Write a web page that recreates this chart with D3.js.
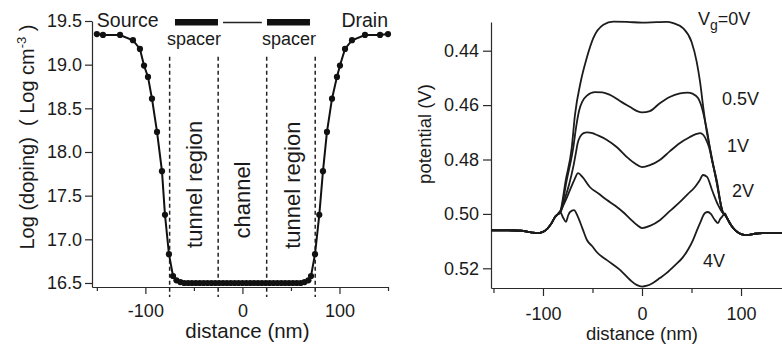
<!DOCTYPE html>
<html>
<head>
<meta charset="utf-8">
<script src="https://cdn.jsdelivr.net/npm/d3@7"></script>
<style>
  body { margin: 0; background: #fff; }
  svg { display: block; }
  text { font-family: "Liberation Sans", Arial, Helvetica, sans-serif; fill: #1a1a1a; }
  .axis path, .axis line { stroke: #2a2a2a; stroke-width: 1.2; }
  .axis text { font-size: 18px; fill: #1a1a1a; }
</style>
</head>
<body>
<svg id="chart" width="782" height="347"></svg>
<script>
// ---- Doping profile (left panel) ----
const dopingX = [-150, -143.7, -126.1, -112.8, -105.6, -101.4, -97.3, -93.2, -88.0, -82.9, -79.8, -75.7, -71.5, -68,
  -64, -60, -56, -52, -48, -44, -40, -36, -32, -28, -24, -20, -16, -12, -8, -4, 0,
  4, 8, 12, 16, 20, 24, 28, 32, 36, 40, 44, 48, 52, 56, 60, 64,
  68, 70.7, 74.8, 79.2, 83.0, 87.1, 92.3, 97.4, 100.5, 105.7, 112.9, 126.3, 141.8, 150];
const dopingY = [19.35, 19.34, 19.34, 19.28, 19.18, 18.99, 18.86, 18.61, 18.23, 17.78, 17.28, 16.83, 16.58, 16.53,
  16.51, 16.50, 16.50, 16.50, 16.50, 16.50, 16.50, 16.50, 16.50, 16.50, 16.50, 16.50, 16.50, 16.50, 16.50, 16.50, 16.50,
  16.50, 16.50, 16.50, 16.50, 16.50, 16.50, 16.50, 16.50, 16.50, 16.50, 16.50, 16.50, 16.50, 16.50, 16.50, 16.51,
  16.53, 16.58, 16.83, 17.28, 17.78, 18.23, 18.61, 18.86, 18.99, 19.18, 19.28, 19.34, 19.34, 19.35];
const dopingTicks = [16.5, 17.0, 17.5, 18.0, 18.5, 19.0, 19.5];
const distMajorTicks = [-100, 0, 100];
const distMinorTicks = [-150, -50, 50, 150];
const regionBounds = [-75, -25, 25, 75];
const regionLabels = [
  { text: "tunnel region", at: -50, level: 17.63 },
  { text: "channel", at: 0, level: 17.45 },
  { text: "tunnel region", at: 51, level: 17.62 }
];

// ---- Potential profiles (right panel), [distance nm, potential V] ----
const edgeLeft = [[-152.5, 0.5060], [-135, 0.5060], [-122, 0.5062], [-112, 0.5068], [-106, 0.5071],
  [-100, 0.5066], [-95, 0.5052], [-91, 0.5032], [-88, 0.5012]];
const edgeRight = [[86, 0.5016], [90, 0.5042], [94, 0.5060], [100, 0.5074], [106, 0.5078],
  [114, 0.5073], [122, 0.5071], [152.5, 0.5071]];

const vg0 = [[-85.5, 0.5003], [-82.8, 0.4994], [-77, 0.4876], [-71, 0.4758], [-67.7, 0.4636], [-61.9, 0.4514],
  [-55.9, 0.4428], [-49.2, 0.4354], [-39, 0.4305], [-29, 0.4293], [-15, 0.4294], [0, 0.4297], [15, 0.4295],
  [25, 0.4294], [31.6, 0.4299], [41.7, 0.4318], [50, 0.4367], [55.2, 0.4440], [58.6, 0.4514], [62, 0.4612],
  [65.4, 0.4698], [68.7, 0.4759], [75, 0.4876], [81.8, 0.4994], [84, 0.5004]];
const vg05 = [[-85.5, 0.5003], [-82.5, 0.4994], [-76, 0.4876], [-69.5, 0.4758], [-66.5, 0.4680], [-63.5, 0.4620],
  [-60, 0.4585], [-55.6, 0.4565], [-47.5, 0.4552], [-40, 0.4553], [-32, 0.4563], [-20, 0.4590], [-12, 0.4607],
  [-5, 0.4622], [0, 0.4627], [8, 0.4622], [18, 0.4593], [28, 0.4570], [38.4, 0.4557], [46, 0.4554], [51, 0.4558],
  [56.6, 0.4574], [59.5, 0.4598], [61.6, 0.4625], [63.7, 0.4660], [66, 0.4700], [68.5, 0.4758], [75, 0.4876],
  [81.6, 0.4994], [84, 0.5004]];
const vg1 = [[-85.5, 0.5003], [-82.3, 0.4994], [-78, 0.4945], [-73.5, 0.4890], [-69, 0.4820], [-66.5, 0.4770],
  [-65, 0.4740], [-62.6, 0.4717], [-59, 0.4703], [-55.6, 0.4700], [-50, 0.4703], [-45.5, 0.4710], [-35.4, 0.4728],
  [-25.3, 0.4755], [-15.2, 0.4791], [-7, 0.4815], [0, 0.4828], [8, 0.4821], [18, 0.4802], [28, 0.4770],
  [38, 0.4740], [48, 0.4718], [55, 0.4706], [58.6, 0.4703], [62, 0.4710], [65.7, 0.4735], [68.7, 0.4768],
  [70.5, 0.4800], [75.5, 0.4876], [81.4, 0.4994], [84, 0.5004]];
const vg2 = [[-85.5, 0.5003], [-81, 0.4980], [-77.8, 0.4956], [-72.7, 0.4912], [-68, 0.4872], [-64.6, 0.4850],
  [-60, 0.4865], [-52.5, 0.4902], [-44, 0.4925], [-35.4, 0.4949], [-27, 0.4970], [-19.2, 0.4993], [-12, 0.5018],
  [-5, 0.5041], [0, 0.5052], [8, 0.5044], [18, 0.5023], [28, 0.4990], [38.4, 0.4956], [46, 0.4928],
  [53.5, 0.4901], [58, 0.4878], [61.6, 0.4857], [65.7, 0.4864], [70.7, 0.4912], [76.8, 0.4967], [80.8, 0.4993],
  [84, 0.5004]];
const vg4 = [[-85, 0.5000], [-82.8, 0.4993], [-79.5, 0.5015], [-76.8, 0.5029], [-74.5, 0.5005], [-72.7, 0.4993],
  [-68.7, 0.4986], [-64.6, 0.5012], [-60, 0.5055], [-55.6, 0.5096], [-50, 0.5120], [-45.5, 0.5141],
  [-35.4, 0.5170], [-22.2, 0.5206], [-12, 0.5243], [-5, 0.5262], [0, 0.5267], [5, 0.5264], [11, 0.5254],
  [18, 0.5236], [25, 0.5217], [33, 0.5190], [41.4, 0.5159], [47, 0.5128], [51.5, 0.5096], [55, 0.5065],
  [58.6, 0.5034], [63.6, 0.4997], [66.7, 0.4993], [69.5, 0.5000], [73.5, 0.5022], [76.8, 0.5034],
  [78.8, 0.5020], [81, 0.5010], [83.8, 0.4998]];
const potentialSeries = [vg0, vg05, vg1, vg2, vg4];
const potentialTicks = [0.44, 0.46, 0.48, 0.50, 0.52];

const svg = d3.select("#chart");
const plainInt = d => String(d);   // ASCII hyphen for negative ticks

// ================= Left panel: doping =================
const xL = d3.scaleLinear().domain([-155, 150]).range([92, 388]);
const yL = d3.scaleLinear().domain([16.454, 19.5]).range([287, 21]);
const left = svg.append("g");

left.append("g").attr("class", "axis")
  .attr("transform", `translate(${xL.range()[0]},0)`)
  .call(d3.axisLeft(yL).tickValues(dopingTicks).tickFormat(d3.format(".1f"))
    .tickSize(7).tickSizeOuter(0).tickPadding(3));

left.append("g").attr("class", "axis")
  .attr("transform", `translate(0,${yL.range()[0]})`)
  .call(d3.axisBottom(xL).tickValues(distMajorTicks).tickFormat(plainInt)
    .tickSize(7).tickSizeOuter(0).tickPadding(10));
left.append("g").attr("class", "axis")
  .attr("transform", `translate(0,${yL.range()[0]})`)
  .call(d3.axisBottom(xL).tickValues(distMinorTicks).tickFormat("").tickSize(4).tickSizeOuter(0))
  .call(g => g.select(".domain").remove());

// region boundaries
left.selectAll("line.bound").data(regionBounds).join("line")
  .attr("class", "bound")
  .attr("x1", d => xL(d)).attr("x2", d => xL(d))
  .attr("y1", yL(19.09)).attr("y2", yL.range()[0] + 10)
  .attr("stroke", "#222").attr("stroke-width", 1.5).attr("stroke-dasharray", "4,3");

// doping curve with markers
const dopingPts = dopingX.map((x, i) => [x, dopingY[i]]);
left.append("path").datum(dopingPts)
  .attr("fill", "none").attr("stroke", "#111").attr("stroke-width", 2)
  .attr("d", d3.line().x(d => xL(d[0])).y(d => yL(d[1])));
left.selectAll("circle").data(dopingPts).join("circle")
  .attr("cx", d => xL(d[0])).attr("cy", d => yL(d[1])).attr("r", 3.1).attr("fill", "#111");

// device schematic along the top
left.append("text").attr("x", xL(-150)).attr("y", 27).attr("font-size", 19.5).text("Source");
left.append("text").attr("x", xL(150)).attr("y", 27).attr("font-size", 19.5)
  .attr("text-anchor", "end").text("Drain");
[[-69.5, -25.2], [25.3, 69.6]].forEach(([a, b]) => {
  left.append("rect").attr("x", xL(a)).attr("y", 19).attr("width", xL(b) - xL(a)).attr("height", 6.5)
    .attr("fill", "#111");
});
left.append("line").attr("x1", xL(-20)).attr("x2", xL(20)).attr("y1", 22.5).attr("y2", 22.5)
  .attr("stroke", "#222").attr("stroke-width", 1.5);
[-50, 48].forEach(c => {
  left.append("text").attr("x", xL(c)).attr("y", 45).attr("font-size", 18)
    .attr("text-anchor", "middle").text("spacer");
});

// region names
left.selectAll("text.region").data(regionLabels).join("text")
  .attr("class", "region")
  .attr("transform", d => `translate(${xL(d.at)},${yL(d.level)}) rotate(-90)`)
  .attr("text-anchor", "middle").attr("dy", "0.35em").attr("font-size", 22)
  .text(d => d.text);

// axis titles
const yTitle = left.append("text")
  .attr("transform", "translate(27,137) rotate(-90)")
  .attr("text-anchor", "middle").attr("dy", "0.35em").attr("font-size", 20);
yTitle.append("tspan").text("Log (doping)\u00a0\u00a0(\u00a0Log cm");
yTitle.append("tspan").attr("dy", -8).attr("font-size", 13).text("-3");
yTitle.append("tspan").attr("dy", 8).text("\u00a0)");

left.append("text").attr("x", xL(0) + 5).attr("y", 338).attr("text-anchor", "middle")
  .attr("font-size", 20.5).text("distance (nm)");

// ================= Right panel: potential =================
const xR = d3.scaleLinear().domain([-152.5, 152.5]).range([491, 793]);
const yR = d3.scaleLinear().domain([0.42945, 0.52724]).range([22, 288]);
const right = svg.append("g");

right.append("g").attr("class", "axis")
  .attr("transform", `translate(${xR.range()[0]},0)`)
  .call(d3.axisLeft(yR).tickValues(potentialTicks).tickFormat(d3.format(".2f"))
    .tickSize(8).tickSizeOuter(0).tickPadding(4));

right.append("g").attr("class", "axis")
  .attr("transform", `translate(0,${yR.range()[1]})`)
  .call(d3.axisBottom(xR).tickValues(distMajorTicks).tickFormat(plainInt)
    .tickSize(8).tickSizeOuter(0).tickPadding(11));
right.append("g").attr("class", "axis")
  .attr("transform", `translate(0,${yR.range()[1]})`)
  .call(d3.axisBottom(xR).tickValues(distMinorTicks).tickFormat("").tickSize(5).tickSizeOuter(0))
  .call(g => g.select(".domain").remove());

const potLine = d3.line().x(d => xR(d[0])).y(d => yR(d[1])).curve(d3.curveMonotoneX);
right.selectAll("path.pot").data(potentialSeries).join("path")
  .attr("class", "pot")
  .attr("fill", "none").attr("stroke", "#1c1c1c").attr("stroke-width", 1.8)
  .attr("stroke-linejoin", "round")
  .attr("d", d => potLine(edgeLeft.concat(d, edgeRight)));

// gate-voltage labels
const vgLabel = right.append("text").attr("x", 698).attr("y", 25).attr("font-size", 18);
vgLabel.append("tspan").text("V");
vgLabel.append("tspan").attr("dy", 5).attr("font-size", 14).text("g");
vgLabel.append("tspan").attr("dy", -5).text("=0V");
[["0.5V", 722, 105], ["1V", 727, 152], ["2V", 732, 197], ["4V", 703, 267]].forEach(([t, x, y]) => {
  right.append("text").attr("x", x).attr("y", y).attr("font-size", 18).text(t);
});

right.append("text")
  .attr("transform", "translate(425,134) rotate(-90)")
  .attr("text-anchor", "middle").attr("dy", "0.35em").attr("font-size", 18.5)
  .text("potential (V)");
right.append("text").attr("x", xR(0)).attr("y", 340).attr("text-anchor", "middle")
  .attr("font-size", 18.5).text("distance (nm)");
</script>
</body>
</html>
